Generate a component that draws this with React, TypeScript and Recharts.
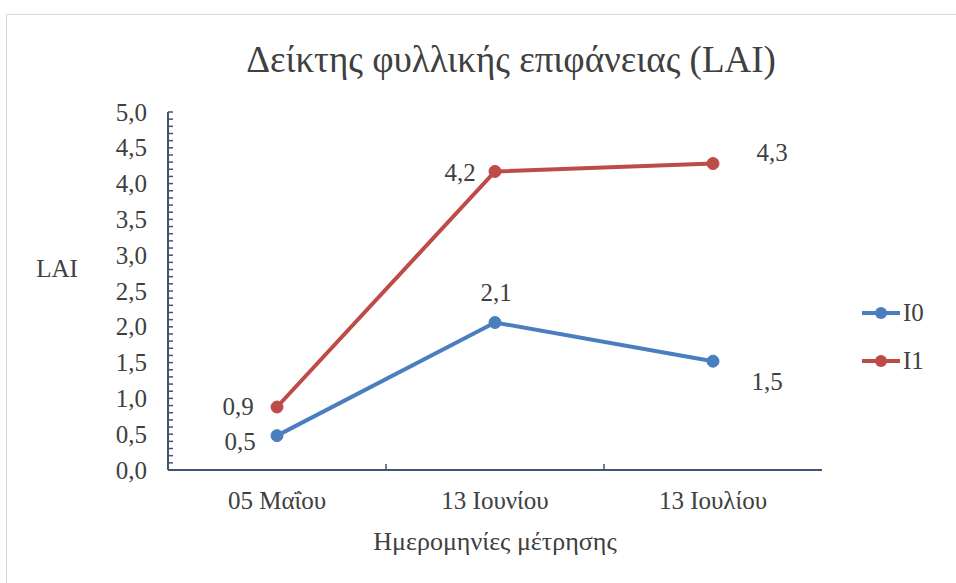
import React from "react";
import { LineChart, Line, XAxis, YAxis, LabelList, Label } from "recharts";

const dates = ["05 Μαΐου", "13 Ιουνίου", "13 Ιουλίου"];
const i0Values = [0.48, 2.06, 1.52];
const i1Values = [0.88, 4.17, 4.28];
const yTicks = Array.from({ length: 51 }, (_, i) => i / 10);

const data = dates.map((d, i) => ({ date: d, I0: i0Values[i], I1: i1Values[i] }));

const BLUE = "#4A7EBF";
const RED = "#BE4B48";
const AXIS = "#3F5572";
const TEXT = "#404040";
const FONT = "'Liberation Serif'";

const fmt = (v: number) => v.toFixed(1).replace(".", ",");

// label placement per series / point
const labelPos: Record<string, [number, number][]> = {
  I0: [[-37, 6], [1, -30], [54, 20]],
  I1: [[-39, 0], [-35, 1], [59, -11]],
};

const makeLabel = (key: string) => (props: any) => {
  const { x, y, value, index } = props;
  const [dx, dy] = labelPos[key][index];
  return (
    <text x={x + dx} y={y + dy} textAnchor="middle" dominantBaseline="central"
      fontFamily={FONT} fontSize={25} fill={TEXT}>
      {fmt(value)}
    </text>
  );
};

const YTick = (props: any) => {
  const { x, y, payload } = props;
  const v = payload.value;
  const major = Math.round(v * 10) % 5 === 0;
  const ax = x + 14;
  return (
    <g>
      <line x1={ax} x2={ax + 5} y1={y} y2={y} stroke={AXIS} strokeWidth={1.5} />
      {major && (
        <text x={x - 7} y={y} textAnchor="end" dominantBaseline="central"
          fontFamily={FONT} fontSize={25} fill={TEXT}>
          {fmt(v)}
        </text>
      )}
    </g>
  );
};

const XTick = (props: any) => {
  const { x, y, payload, index } = props;
  const band = 218;
  return (
    <g>
      {index > 0 && (
        <line x1={x - band / 2} x2={x - band / 2} y1={y - 8} y2={y - 14} stroke={AXIS} strokeWidth={1.5} />
      )}
      <text x={x} y={y + 22} textAnchor="middle" dominantBaseline="central"
        fontFamily={FONT} fontSize={25} fill={TEXT}>
        {payload.value}
      </text>
    </g>
  );
};

const YLabel = (props: any) => {
  const { viewBox } = props;
  return (
    <text x={57} y={viewBox.y + viewBox.height / 2 - 23} textAnchor="middle" dominantBaseline="central"
      fontFamily={FONT} fontSize={25} fill={TEXT}>
      LAI
    </text>
  );
};

const legendItems: [string, string][] = [["I0", BLUE], ["I1", RED]];

export default function App() {
  return (
    <div style={{ position: "absolute", left: 0, top: 0, width: 956, height: 583, background: "#fff", overflow: "hidden", fontFamily: FONT }}>
      <div style={{ position: "absolute", left: 6, top: 14, width: 960, height: 575, border: "1px solid #d9d9d9", boxSizing: "border-box" }} />
      <div style={{ position: "absolute", left: 0, top: 38, width: 1022, textAlign: "center", fontFamily: FONT, fontSize: 37, color: TEXT }}>
        Δείκτης φυλλικής επιφάνειας (LAI)
      </div>
      <div style={{ position: "absolute", left: 862, top: 289, fontFamily: FONT, fontSize: 25, color: TEXT }}>
        {legendItems.map(([name, color]) => (
          <div key={name} style={{ display: "flex", alignItems: "center", height: 48 }}>
            <svg width={38} height={14}>
              <line x1={0} x2={38} y1={7} y2={7} stroke={color} strokeWidth={4} />
              <circle cx={19} cy={7} r={6} fill={color} />
            </svg>
            <span style={{ marginLeft: 3 }}>{name}</span>
          </div>
        ))}
      </div>
      <div style={{ position: "absolute", left: 0, top: 0 }}>
        <LineChart width={956} height={583} data={data} margin={{ top: 112, right: 134, left: 0, bottom: 0 }}>
          <XAxis dataKey="date" scale="point" padding={{ left: 109, right: 109 }} height={113}
            stroke={AXIS} strokeWidth={2} tickLine={false} tick={<XTick />} interval={0}>
            <Label value="Ημερομηνίες μέτρησης" position="insideTop" offset={62}
              style={{ fontFamily: FONT, fontSize: 26, fill: TEXT }} />
          </XAxis>
          <YAxis type="number" domain={[0, 5]} ticks={yTicks} interval={0} width={168}
            stroke={AXIS} strokeWidth={2} tickLine={false} tickSize={6} tickMargin={8} tick={<YTick />}>
            <Label content={<YLabel />} position="insideLeft" />
          </YAxis>
          <Line dataKey="I0" stroke={BLUE} strokeWidth={4} isAnimationActive={false}
            dot={{ r: 6, fill: BLUE, stroke: BLUE, strokeWidth: 1 }}>
            <LabelList dataKey="I0" content={makeLabel("I0")} />
          </Line>
          <Line dataKey="I1" stroke={RED} strokeWidth={4} isAnimationActive={false}
            dot={{ r: 6, fill: RED, stroke: RED, strokeWidth: 1 }}>
            <LabelList dataKey="I1" content={makeLabel("I1")} />
          </Line>
        </LineChart>
      </div>
    </div>
  );
}
